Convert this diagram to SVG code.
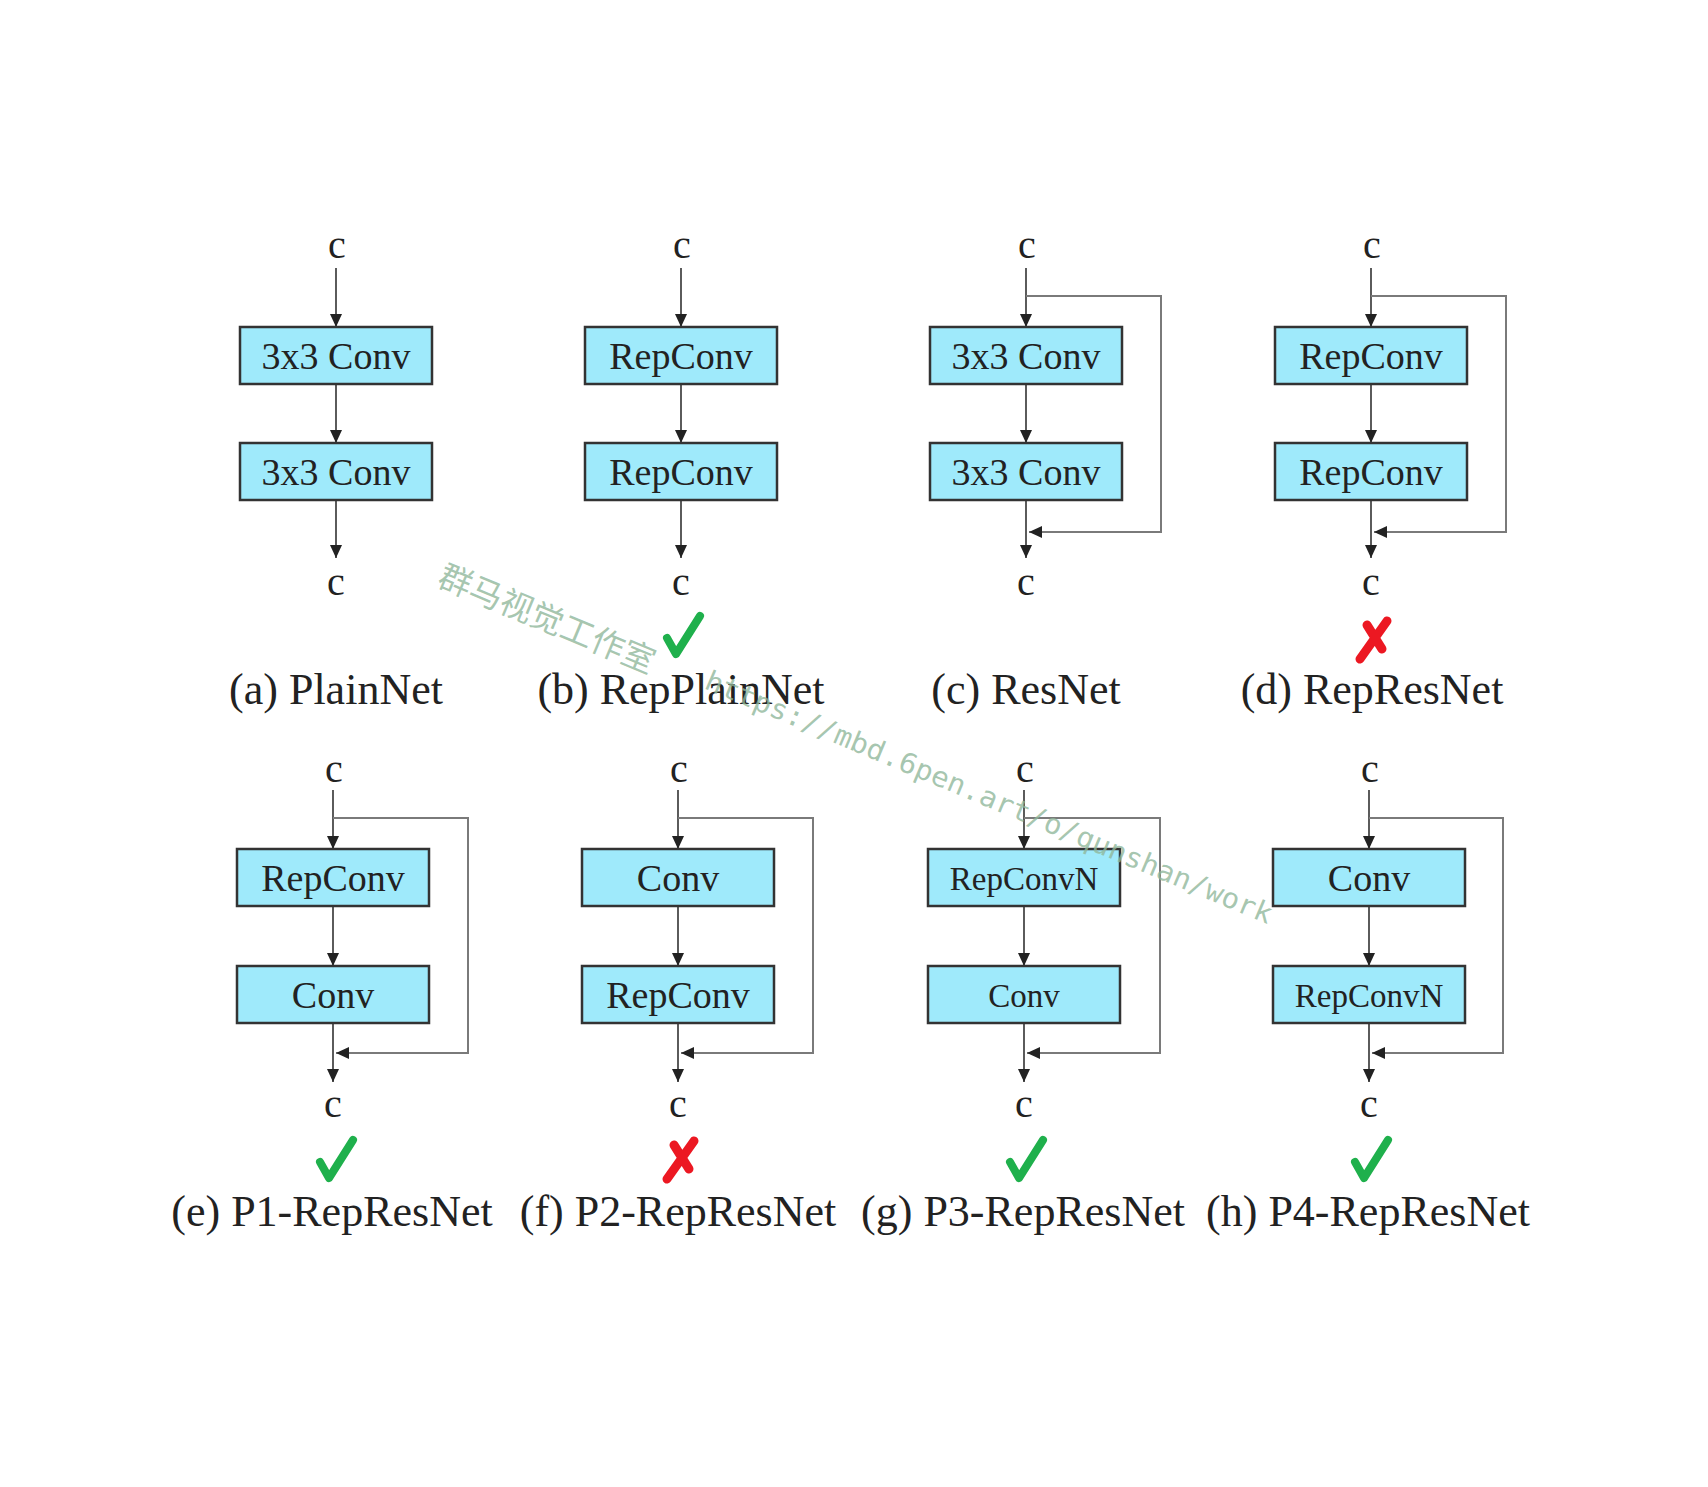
<svg xmlns="http://www.w3.org/2000/svg" xmlns:xlink="http://www.w3.org/1999/xlink" width="1708" height="1487" viewBox="0 0 1708 1487">
<style>
.box{fill:#9feafb;stroke:#333;stroke-width:2.5}
.bt{font-family:"Liberation Serif","Times New Roman",serif;font-size:38px;fill:#222;text-anchor:middle}
.bs{font-size:33px}
.c{font-family:"Liberation Serif","Times New Roman",serif;font-size:40px;fill:#222;text-anchor:middle}
.lab{font-family:"Liberation Serif","Times New Roman",serif;font-size:44px;fill:#222;text-anchor:middle}
.ln{fill:none;stroke:#4a4a4a;stroke-width:1.8}
.sk{fill:none;stroke:#7a7a7a;stroke-width:2}
.wm{font-family:"Noto Sans CJK SC","DejaVu Sans Mono",monospace;fill:#8fb79a;fill-opacity:0.8}
</style>
<defs>
<marker id="ah" markerUnits="userSpaceOnUse" markerWidth="13" markerHeight="12" refX="13" refY="6" orient="auto">
<path d="M0,0 L13,6 L0,12 z" fill="#222"/>
</marker>
<g id="chk"><path d="M-15,2 L-6,18 L18,-20" fill="none" stroke="#1fb04c" stroke-width="8" stroke-linecap="round" stroke-linejoin="round"/></g>
<g id="crs"><path d="M14,-19 L-13,19 M-6,-15 L9,9" fill="none" stroke="#ec1822" stroke-width="9" stroke-linecap="round"/></g>
</defs>
<rect width="1708" height="1487" fill="#fff"/>

<g id="connectors">
<path class="ln" d="M336,268 V327" marker-end="url(#ah)"/>
<path class="ln" d="M336,384 V443" marker-end="url(#ah)"/>
<path class="ln" d="M336,500 V558" marker-end="url(#ah)"/>
<path class="ln" d="M681,268 V327" marker-end="url(#ah)"/>
<path class="ln" d="M681,384 V443" marker-end="url(#ah)"/>
<path class="ln" d="M681,500 V558" marker-end="url(#ah)"/>
<path class="ln" d="M1026,268 V327" marker-end="url(#ah)"/>
<path class="ln" d="M1026,384 V443" marker-end="url(#ah)"/>
<path class="ln" d="M1026,500 V558" marker-end="url(#ah)"/>
<path class="sk" d="M1026,296 H1161 V532 H1029" marker-end="url(#ah)"/>
<path class="ln" d="M1371,268 V327" marker-end="url(#ah)"/>
<path class="ln" d="M1371,384 V443" marker-end="url(#ah)"/>
<path class="ln" d="M1371,500 V558" marker-end="url(#ah)"/>
<path class="sk" d="M1371,296 H1506 V532 H1374" marker-end="url(#ah)"/>
<path class="ln" d="M333,790 V849" marker-end="url(#ah)"/>
<path class="ln" d="M333,906 V966" marker-end="url(#ah)"/>
<path class="ln" d="M333,1023 V1082" marker-end="url(#ah)"/>
<path class="sk" d="M333,818 H468 V1053 H336" marker-end="url(#ah)"/>
<path class="ln" d="M678,790 V849" marker-end="url(#ah)"/>
<path class="ln" d="M678,906 V966" marker-end="url(#ah)"/>
<path class="ln" d="M678,1023 V1082" marker-end="url(#ah)"/>
<path class="sk" d="M678,818 H813 V1053 H681" marker-end="url(#ah)"/>
<path class="ln" d="M1024,790 V849" marker-end="url(#ah)"/>
<path class="ln" d="M1024,906 V966" marker-end="url(#ah)"/>
<path class="ln" d="M1024,1023 V1082" marker-end="url(#ah)"/>
<path class="sk" d="M1024,818 H1160 V1053 H1027" marker-end="url(#ah)"/>
<path class="ln" d="M1369,790 V849" marker-end="url(#ah)"/>
<path class="ln" d="M1369,906 V966" marker-end="url(#ah)"/>
<path class="ln" d="M1369,1023 V1082" marker-end="url(#ah)"/>
<path class="sk" d="M1369,818 H1503 V1053 H1372" marker-end="url(#ah)"/>
</g>

<!-- (a) PlainNet -->
<g id="a-in"><text class="c" x="337" y="258">c</text></g>
<g id="a-conv1"><rect class="box" x="240" y="327" width="192" height="57"/><text class="bt" x="336" y="369">3x3 Conv</text></g>
<g id="a-conv2"><rect class="box" x="240" y="443" width="192" height="57"/><text class="bt" x="336" y="485">3x3 Conv</text></g>
<g id="a-out"><text class="c" x="336" y="595">c</text></g>
<g id="a-label"><text class="lab" x="336" y="704">(a) PlainNet</text></g>

<!-- (b) RepPlainNet -->
<g id="b-in"><text class="c" x="682" y="258">c</text></g>
<g id="b-conv1"><rect class="box" x="585" y="327" width="192" height="57"/><text class="bt" x="681" y="369">RepConv</text></g>
<g id="b-conv2"><rect class="box" x="585" y="443" width="192" height="57"/><text class="bt" x="681" y="485">RepConv</text></g>
<g id="b-out"><text class="c" x="681" y="595">c</text></g>
<g id="b-mark"><use xlink:href="#chk" href="#chk" x="682" y="636"/></g>
<g id="b-label"><text class="lab" x="681" y="704">(b) RepPlainNet</text></g>

<!-- (c) ResNet -->
<g id="c-in"><text class="c" x="1027" y="258">c</text></g>
<g id="c-conv1"><rect class="box" x="930" y="327" width="192" height="57"/><text class="bt" x="1026" y="369">3x3 Conv</text></g>
<g id="c-conv2"><rect class="box" x="930" y="443" width="192" height="57"/><text class="bt" x="1026" y="485">3x3 Conv</text></g>
<g id="c-out"><text class="c" x="1026" y="595">c</text></g>
<g id="c-label"><text class="lab" x="1026" y="704">(c) ResNet</text></g>

<!-- (d) RepResNet -->
<g id="d-in"><text class="c" x="1372" y="258">c</text></g>
<g id="d-conv1"><rect class="box" x="1275" y="327" width="192" height="57"/><text class="bt" x="1371" y="369">RepConv</text></g>
<g id="d-conv2"><rect class="box" x="1275" y="443" width="192" height="57"/><text class="bt" x="1371" y="485">RepConv</text></g>
<g id="d-out"><text class="c" x="1371" y="595">c</text></g>
<g id="d-mark"><use xlink:href="#crs" href="#crs" x="1373" y="640"/></g>
<g id="d-label"><text class="lab" x="1372" y="704">(d) RepResNet</text></g>

<!-- (e) P1-RepResNet -->
<g id="e-in"><text class="c" x="334" y="782">c</text></g>
<g id="e-conv1"><rect class="box" x="237" y="849" width="192" height="57"/><text class="bt" x="333" y="891">RepConv</text></g>
<g id="e-conv2"><rect class="box" x="237" y="966" width="192" height="57"/><text class="bt" x="333" y="1008">Conv</text></g>
<g id="e-out"><text class="c" x="333" y="1117">c</text></g>
<g id="e-mark"><use xlink:href="#chk" href="#chk" x="335" y="1160"/></g>
<g id="e-label"><text class="lab" x="332" y="1226">(e) P1-RepResNet</text></g>

<!-- (f) P2-RepResNet -->
<g id="f-in"><text class="c" x="679" y="782">c</text></g>
<g id="f-conv1"><rect class="box" x="582" y="849" width="192" height="57"/><text class="bt" x="678" y="891">Conv</text></g>
<g id="f-conv2"><rect class="box" x="582" y="966" width="192" height="57"/><text class="bt" x="678" y="1008">RepConv</text></g>
<g id="f-out"><text class="c" x="678" y="1117">c</text></g>
<g id="f-mark"><use xlink:href="#crs" href="#crs" x="680" y="1160"/></g>
<g id="f-label"><text class="lab" x="678" y="1226">(f) P2-RepResNet</text></g>

<!-- (g) P3-RepResNet -->
<g id="g-in"><text class="c" x="1025" y="782">c</text></g>
<g id="g-conv1"><rect class="box" x="928" y="849" width="192" height="57"/><text class="bt bs" x="1024" y="890">RepConvN</text></g>
<g id="g-conv2"><rect class="box" x="928" y="966" width="192" height="57"/><text class="bt bs" x="1024" y="1007">Conv</text></g>
<g id="g-out"><text class="c" x="1024" y="1117">c</text></g>
<g id="g-mark"><use xlink:href="#chk" href="#chk" x="1025" y="1160"/></g>
<g id="g-label"><text class="lab" x="1023" y="1226">(g) P3-RepResNet</text></g>

<!-- (h) P4-RepResNet -->
<g id="h-in"><text class="c" x="1370" y="782">c</text></g>
<g id="h-conv1"><rect class="box" x="1273" y="849" width="192" height="57"/><text class="bt" x="1369" y="891">Conv</text></g>
<g id="h-conv2"><rect class="box" x="1273" y="966" width="192" height="57"/><text class="bt bs" x="1369" y="1007">RepConvN</text></g>
<g id="h-out"><text class="c" x="1369" y="1117">c</text></g>
<g id="h-mark"><use xlink:href="#chk" href="#chk" x="1370" y="1160"/></g>
<g id="h-label"><text class="lab" x="1368" y="1226">(h) P4-RepResNet</text></g>

<!-- watermark -->
<g id="watermark" transform="rotate(22.7 436 585)">
<text class="wm" x="436" y="585" font-size="33">群马视觉工作室</text>
<text class="wm" x="722" y="577" font-size="28" textLength="612" lengthAdjust="spacingAndGlyphs" style="font-family:'DejaVu Sans Mono',monospace">https://mbd.6pen.art/o/qunshan/work</text>
</g>
</svg>
